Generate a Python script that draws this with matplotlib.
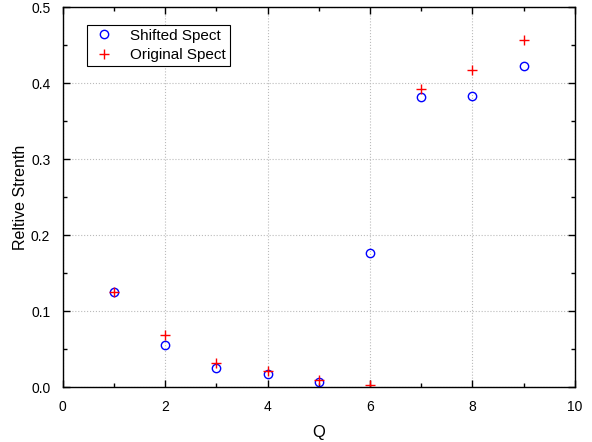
import matplotlib
matplotlib.use("Agg")
import matplotlib.pyplot as plt
from matplotlib.ticker import MultipleLocator

plt.rcParams['font.family'] = ['Liberation Sans', 'DejaVu Sans']

q = [1, 2, 3, 4, 5, 6, 7, 8, 9]
shifted = [0.125, 0.055, 0.025, 0.017, 0.007, 0.176, 0.382, 0.383, 0.423]
original = [0.125, 0.069, 0.032, 0.021, 0.010, 0.003, 0.392, 0.417, 0.457]

fig = plt.figure(figsize=(5.92, 4.42), dpi=100)
ax = fig.add_axes([0.106, 0.124, 0.865, 0.860])

ax.plot(q, shifted, linestyle='none', marker='o', markersize=6,
        markerfacecolor='none', markeredgecolor='blue', markeredgewidth=1.0,
        label='Shifted Spect')
ax.plot(q, original, linestyle='none', marker='+', markersize=7,
        color='red', markeredgewidth=1.0, label='Original Spect')

ax.set_xlim(0, 10)
ax.set_ylim(0, 0.5)
ax.xaxis.set_major_locator(MultipleLocator(2))
ax.xaxis.set_minor_locator(MultipleLocator(1))
ax.yaxis.set_major_locator(MultipleLocator(0.1))
ax.yaxis.set_minor_locator(MultipleLocator(0.05))
ax.yaxis.set_major_formatter(matplotlib.ticker.FormatStrFormatter('%.1f'))

ax.tick_params(which='both', direction='in', top=True, right=True,
               labelsize=10, width=1.0)
ax.tick_params(which='major', length=5)
ax.tick_params(which='minor', length=3)
ax.tick_params(axis='x', which='major', pad=9)
ax.tick_params(axis='y', which='major', pad=9)
for s in ax.spines.values():
    s.set_linewidth(1.0)

ax.grid(True, which='major', linestyle=':', color='#bbbbbb', linewidth=0.8)

ax.set_xlabel('Q', fontsize=12, labelpad=8)
ax.set_ylabel('Reltive Strenth', fontsize=11.5, labelpad=2)

leg = ax.legend(loc='upper left', bbox_to_anchor=(0.047, 0.953), fontsize=11,
                fancybox=False, edgecolor='black', framealpha=1,
                handlelength=1.8, handletextpad=0.8, borderpad=0.25,
                labelspacing=0.35, borderaxespad=0)
leg.get_frame().set_linewidth(0.8)

fig.savefig('out.png', dpi=100)
